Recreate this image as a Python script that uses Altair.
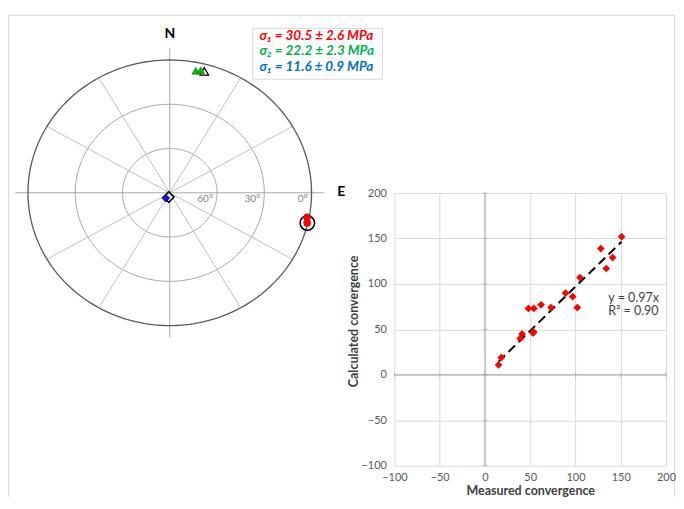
import altair as alt
import numpy as np
import pandas as pd

# ---------------- Stereonet data ----------------
GRID_DIPS = [0, 30, 60]
GRID_LABELS = ["0°", "30°", "60°"]
SPOKE_AZ = [30, 60, 120, 150, 210, 240, 300, 330]
CROSS_AZ = [0, 90]
COMPASS = ["N", "E"]
COMPASS_AZ = [0, 90]

S1_TREND = [100.8, 103.2]
S1_PLUNGE = [1.2, 0.4]
S1_MEAN_TREND = [103.2]
S1_MEAN_PLUNGE = [0.3]

S2_TREND = [11.3, 13.3]
S2_PLUNGE = [5.7, 4.7]
S2_MEAN_TREND = [14.9]
S2_MEAN_PLUNGE = [4.8]

S3_TREND = [215.0]
S3_PLUNGE = [85.6]
S3_MEAN_TREND = [192.0]
S3_MEAN_PLUNGE = [87.0]

LEGEND_TEXT = ["σ₁ = 30.5 ± 2.6 MPa", "σ₂ = 22.2 ± 2.3 MPa", "σ₁ = 11.6 ± 0.9 MPa"]
LEGEND_COLORS = ["#FF0000", "#00B050", "#0070C0"]

# ---------------- Scatter data ----------------
MEASURED = [15, 18, 39, 41, 53, 54, 48, 54, 62, 73, 89, 97, 102, 105, 128, 134, 141, 151]
CALCULATED = [11, 19, 40, 45, 46, 47, 73, 73, 77, 74, 90, 86, 74, 107, 139, 117, 129, 152]
SLOPE = 0.97
R2 = 0.90
TICKS = [-100, -50, 0, 50, 100, 150, 200]

FONT = "Lato"


def proj(trend, plunge):
    r = (90 - np.asarray(plunge, float)) / 90.0
    t = np.radians(np.asarray(trend, float))
    return r * np.sin(t), r * np.cos(t)


# stereonet scales (x: 142 px / unit, y: 133 px / unit)
XST = alt.Scale(domain=[-1.1408, 1.5352], nice=False, zero=False)
YST = alt.Scale(domain=[-1.1902, 1.3662], nice=False, zero=False)

rows = []
for d in GRID_DIPS:
    az = np.arange(0, 361, 2)
    x, y = proj(az, np.full(az.shape, d))
    for i, (a, b) in enumerate(zip(x, y)):
        rows.append({"dip": d, "i": i, "x": a, "y": b})
circ = pd.DataFrame(rows)

sx, sy = proj(SPOKE_AZ, [0] * len(SPOKE_AZ))
spokes = pd.DataFrame({"x": 0.0, "y": 0.0, "x2": sx, "y2": sy})

CROSS_EXT = 1.09
cx, cy = proj(CROSS_AZ, [0] * len(CROSS_AZ))
cross = pd.DataFrame({"x": -CROSS_EXT * cx, "y": -CROSS_EXT * cy,
                      "x2": CROSS_EXT * cx, "y2": CROSS_EXT * cy})

lx2, ly2 = proj([90] * len(GRID_DIPS), GRID_DIPS)
deglab = pd.DataFrame({"x": lx2, "y": 0.0, "t": GRID_LABELS})


def pts(trend, plunge):
    x, y = proj(trend, plunge)
    return pd.DataFrame({"x": x, "y": y})


def enc(c):
    return c.encode(x=alt.X("x:Q", scale=XST, axis=None),
                    y=alt.Y("y:Q", scale=YST, axis=None))


one = pd.DataFrame({"a": [0]})

FRAME_C = "#D9D9D9"
fr_top = alt.Chart(one).mark_rule(color=FRAME_C, strokeWidth=1).encode(
    x=alt.value(0.5), x2=alt.value(667.5), y=alt.value(4))
fr_left = alt.Chart(one).mark_rule(color=FRAME_C, strokeWidth=1).encode(
    x=alt.value(0.5), y=alt.value(4), y2=alt.value(486))
fr_right = alt.Chart(one).mark_rule(color=FRAME_C, strokeWidth=1).encode(
    x=alt.value(667.5), y=alt.value(4), y2=alt.value(486))

inner = alt.Chart(circ[circ.dip > 0]).mark_line(color="#A6A6A6", strokeWidth=1).encode(
    x=alt.X("x:Q", scale=XST, axis=None), y=alt.Y("y:Q", scale=YST, axis=None),
    detail="dip:N", order="i:Q")
outer = alt.Chart(circ[circ.dip == 0]).mark_line(color="#595959", strokeWidth=1.3).encode(
    x=alt.X("x:Q", scale=XST, axis=None), y=alt.Y("y:Q", scale=YST, axis=None),
    order="i:Q")
spk = alt.Chart(spokes).mark_rule(color="#BFBFBF", strokeWidth=1).encode(
    x=alt.X("x:Q", scale=XST, axis=None), y=alt.Y("y:Q", scale=YST, axis=None),
    x2="x2:Q", y2="y2:Q")
crs = alt.Chart(cross).mark_rule(color="#A6A6A6", strokeWidth=1).encode(
    x=alt.X("x:Q", scale=XST, axis=None), y=alt.Y("y:Q", scale=YST, axis=None),
    x2="x2:Q", y2="y2:Q")
dl = enc(alt.Chart(deglab).mark_text(align="right", baseline="top", dx=-4, dy=1,
                                     fontSize=10, color="#7F7F7F", font=FONT)).encode(text="t:N")

comp_n = enc(alt.Chart(pd.DataFrame({"x": [0.0], "y": [1.17], "t": [COMPASS[0]]}))
             .mark_text(fontSize=14, fontWeight="bold", color="black", font=FONT, dy=-3)).encode(text="t:N")
ex, ey = proj([COMPASS_AZ[1]], [0])
comp_e = enc(alt.Chart(pd.DataFrame({"x": ex * 1.21, "y": ey * 1.21, "t": [COMPASS[1]]}))
             .mark_text(fontSize=14, fontWeight="bold", color="black", font=FONT, dy=-1)).encode(text="t:N")

m1 = enc(alt.Chart(pts(S1_MEAN_TREND, S1_MEAN_PLUNGE)).mark_point(
    shape="circle", size=210, filled=False, color="black", strokeWidth=1.5, opacity=1))
m2 = enc(alt.Chart(pts(S2_MEAN_TREND, S2_MEAN_PLUNGE)).mark_point(
    shape="triangle-up", size=75, filled=True, fill="white", stroke="black", strokeWidth=1.3, opacity=1))
m3 = enc(alt.Chart(pts(S3_MEAN_TREND, S3_MEAN_PLUNGE)).mark_point(
    shape="diamond", size=110, filled=True, fill="white", stroke="black", strokeWidth=1.5, opacity=1))
p1 = enc(alt.Chart(pts(S1_TREND, S1_PLUNGE)).mark_point(
    shape="circle", size=50, filled=True, fill="#FF0000", stroke="#C00000", strokeWidth=0.6, opacity=1))
p2 = enc(alt.Chart(pts(S2_TREND, S2_PLUNGE)).mark_point(
    shape="triangle-up", size=60, filled=True, fill="#00C000", stroke="#007000", strokeWidth=0.6, opacity=1))
p3 = enc(alt.Chart(pts(S3_TREND, S3_PLUNGE)).mark_point(
    shape="diamond", size=60, filled=True, fill="#1515E0", stroke="#000060", strokeWidth=0.8, opacity=1))

lbox = alt.Chart(one).mark_rect(fill="white", stroke="#D9D9D9", strokeWidth=1).encode(
    x=alt.value(245), x2=alt.value(375), y=alt.value(17), y2=alt.value(68))
LEG_Y = [24.5, 40.0, 56.0]
leg_layers = []
for txt, col, yy in zip(LEGEND_TEXT, LEGEND_COLORS, LEG_Y):
    leg_layers.append(alt.Chart(one).mark_text(
        align="left", baseline="middle", fontSize=13.5, fontWeight="bold", fontStyle="italic",
        color=col, font=FONT).encode(x=alt.value(252), y=alt.value(yy), text=alt.value(txt)))

stereo = alt.layer(fr_top, fr_left, fr_right, inner, spk, crs, outer, dl, comp_n, comp_e,
                   m1, m2, m3, p1, p2, p3, lbox, *leg_layers).properties(width=380, height=340)

# ---------------- Scatter panel ----------------
XS = alt.Scale(domain=[-100, 200], nice=False, zero=False)
YS = alt.Scale(domain=[-100, 200], nice=False, zero=False)
df = pd.DataFrame({"Measured": MEASURED, "Calculated": CALCULATED})

xaxis = alt.Axis(values=TICKS, grid=True, gridColor="#D9D9D9", domain=False, ticks=False,
                 labelFlush=False, labelPadding=6, labelColor="#595959", labelFontSize=11,
                 labelFont=FONT, title="Measured convergence", titleFont=FONT, titleFontSize=12.5,
                 titleFontWeight="bold", titleColor="#404040", titlePadding=2)
yaxis = alt.Axis(values=TICKS, grid=True, gridColor="#D9D9D9", domain=False, ticks=False,
                 labelFlush=False, labelPadding=8, labelColor="#595959", labelFontSize=11,
                 labelFont=FONT, title="Calculated convergence", titleFont=FONT, titleFontSize=12.5,
                 titleFontWeight="bold", titleColor="#404040", titlePadding=0, titleY=128)

pts_sc = alt.Chart(df).mark_point(shape="diamond", filled=True, size=60, color="#FF0000", opacity=1).encode(
    x=alt.X("Measured:Q", scale=XS, axis=xaxis),
    y=alt.Y("Calculated:Q", scale=YS, axis=yaxis))

zero = pd.DataFrame({"v": [0]})
z1 = alt.Chart(zero).mark_rule(color="#A6A6A6", strokeWidth=1).encode(x=alt.X("v:Q", scale=XS))
z2 = alt.Chart(zero).mark_rule(color="#A6A6A6", strokeWidth=1).encode(y=alt.Y("v:Q", scale=YS))
tk = pd.DataFrame({"t": TICKS, "z": 0})
tk1 = alt.Chart(tk).mark_tick(orient="horizontal", size=5, thickness=1, color="#A6A6A6").encode(
    x=alt.X("z:Q", scale=XS), y=alt.Y("t:Q", scale=YS))
tk2 = alt.Chart(tk).mark_tick(orient="vertical", size=5, thickness=1, color="#A6A6A6").encode(
    x=alt.X("t:Q", scale=XS), y=alt.Y("z:Q", scale=YS))

trend = alt.Chart(pd.DataFrame({"Measured": [min(MEASURED), max(MEASURED)]})).transform_calculate(
    Fit=f"{SLOPE} * datum.Measured").mark_line(color="black", strokeDash=[9, 5], strokeWidth=2).encode(
    x=alt.X("Measured:Q", scale=XS), y=alt.Y("Fit:Q", scale=YS))

eq1 = alt.Chart(one).mark_text(align="left", baseline="alphabetic", fontSize=12.5, color="#404040", font=FONT).encode(
    x=alt.datum(136.3), y=alt.datum(80.4), text=alt.value(f"y = {SLOPE:.2f}x"))
eq2 = alt.Chart(one).mark_text(align="left", baseline="alphabetic", fontSize=12.5, color="#404040", font=FONT).encode(
    x=alt.datum(136.3), y=alt.datum(65.4), text=alt.value(f"R² = {R2:.2f}"))

scatter = alt.layer(z1, z2, tk1, tk2, trend, pts_sc, eq1, eq2).properties(width=272, height=273)

spacer = alt.Chart(one).mark_point(opacity=0).encode(x=alt.value(0), y=alt.value(0)).properties(
    width=10, height=170)

right = alt.vconcat(spacer, scatter, spacing=12, bounds="flush")

chart = alt.hconcat(stereo, right, spacing=7, bounds="flush").properties(
    padding=0, background="white").configure_view(strokeWidth=0)

chart.save("out.html", embed_options={"renderer": "svg", "actions": False})
